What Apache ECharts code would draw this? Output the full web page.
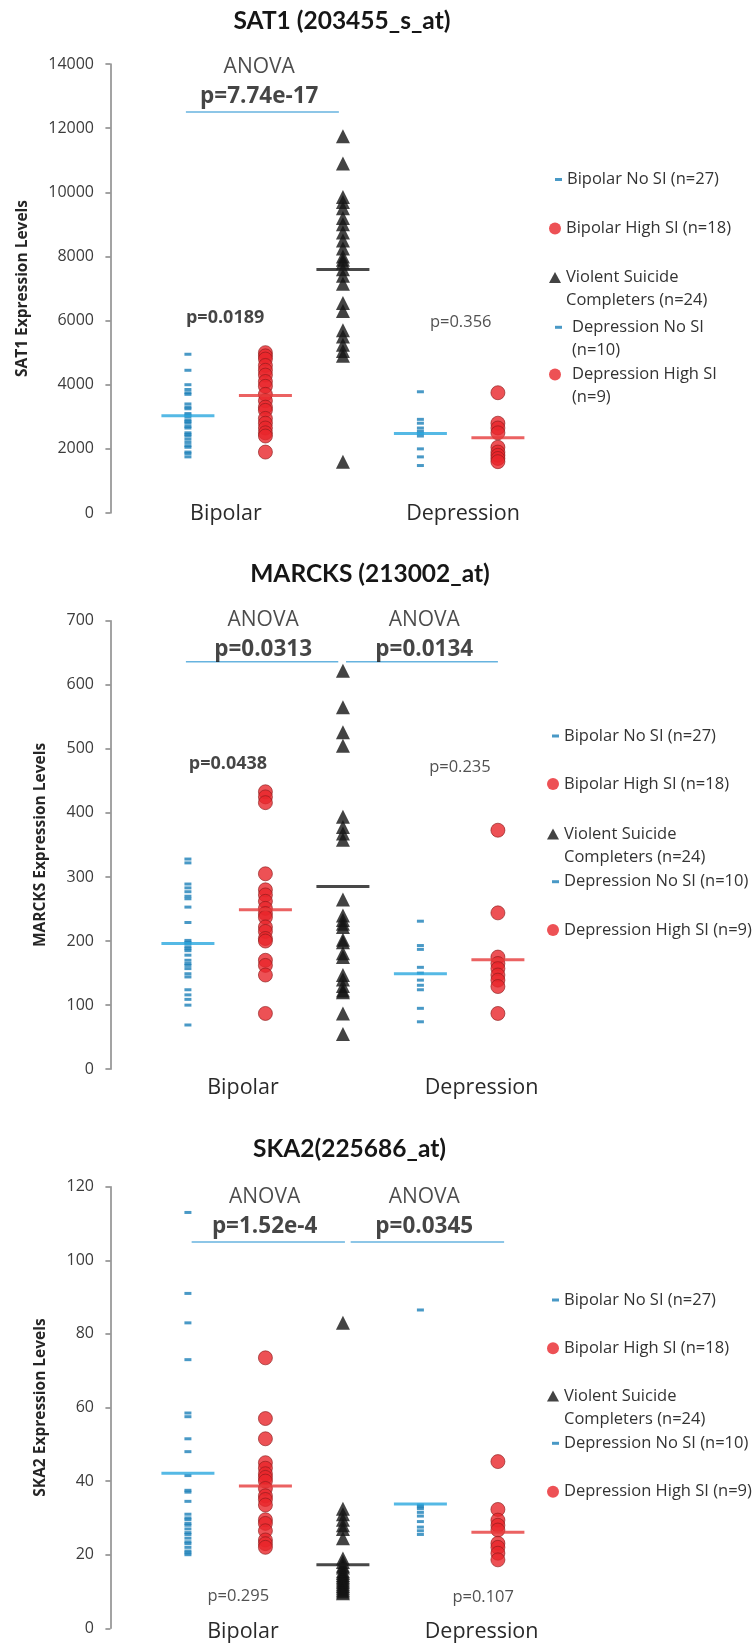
<!DOCTYPE html>
<html><head><meta charset="utf-8">
<script src="https://cdn.jsdelivr.net/npm/echarts@6/dist/echarts.min.js"></script>
<style>html,body{margin:0;padding:0;background:#fff}#c{width:754px;height:1651px}</style>
</head><body><div id="c"></div>
<script>
// ---------------- DATA ----------------
const groupNames = ['Bipolar No SI (n=27)', 'Bipolar High SI (n=18)', 'Violent Suicide Completers (n=24)', 'Depression No SI (n=10)', 'Depression High SI (n=9)'];
const categories = ['Bipolar', 'Depression'];
const chartTitles = ['SAT1 (203455_s_at)', 'MARCKS (213002_at)', 'SKA2(225686_at)'];
const yAxisNames = ['SAT1 Expression Levels', 'MARCKS Expression Levels', 'SKA2 Expression Levels'];

// SAT1
const sat1Ticks = [0, 2000, 4000, 6000, 8000, 10000, 12000, 14000];
const sat1BipolarNoSI = [4950, 4450, 4000, 3850, 3750, 3700, 3400, 3300, 3250, 3100, 3050, 3000, 2900, 2850, 2800, 2700, 2650, 2500, 2450, 2400, 2300, 2200, 2100, 2050, 1900, 1850, 1750];
const sat1BipolarHighSI = [5000, 4900, 4800, 4600, 4450, 4300, 4100, 3950, 3700, 3500, 3300, 3200, 2950, 2800, 2650, 2500, 2400, 1900];
const sat1Violent = [11750, 10900, 9850, 9700, 9500, 9200, 9000, 8750, 8500, 8250, 8000, 7900, 7800, 7600, 7400, 7150, 6550, 6300, 5700, 5500, 5250, 5050, 4900, 1600];
const sat1DepressionNoSI = [3780, 2920, 2800, 2650, 2550, 2480, 2400, 2000, 1750, 1480];
const sat1DepressionHighSI = [3750, 2800, 2650, 2500, 2050, 1900, 1800, 1700, 1600];
const sat1Means = [3030, 3660, 7590, 2480, 2350];
const sat1AnovaLevels = [12500];
const sat1AnovaP = ['p=7.74e-17'];
const sat1PairP = ['p=0.0189', 'p=0.356'];

// MARCKS
const marcksTicks = [0, 100, 200, 300, 400, 500, 600, 700];
const marcksBipolarNoSI = [328, 322, 289, 283, 277, 270, 266, 253, 229, 201, 198, 196, 191, 188, 185, 178, 170, 165, 162, 157, 149, 144, 124, 116, 109, 100, 69];
const marcksBipolarHighSI = [433, 425, 416, 305, 280, 272, 262, 251, 243, 237, 222, 215, 204, 200, 170, 162, 147, 87];
const marcksViolent = [622, 565, 526, 505, 394, 378, 368, 358, 265, 240, 233, 227, 222, 202, 198, 181, 175, 147, 140, 130, 123, 120, 87, 55];
const marcksDepressionNoSI = [231, 193, 187, 159, 150, 139, 131, 124, 95, 74];
const marcksDepressionHighSI = [373, 244, 175, 165, 157, 147, 139, 129, 87];
const marcksMeans = [196, 249, 285, 149, 171];
const marcksAnovaLevels = [636, 636];
const marcksAnovaP = ['p=0.0313', 'p=0.0134'];
const marcksPairP = ['p=0.0438', 'p=0.235'];

// SKA2
const ska2Ticks = [0, 20, 40, 60, 80, 100, 120];
const ska2BipolarNoSI = [113, 91, 83, 73, 58.5, 57.5, 51.5, 48, 41.5, 37.5, 37, 34.5, 31, 30, 29.5, 28.5, 28, 27, 26, 25.5, 24.5, 23.5, 23, 22, 21, 20.5, 20];
const ska2BipolarHighSI = [73.5, 57, 51.5, 45, 43.5, 42, 41, 40, 38, 36, 35, 33.5, 29.5, 28.5, 26.5, 24, 23, 22];
const ska2Violent = [83, 32.5, 31, 29.5, 28, 27, 24.5, 19, 18, 17, 16.5, 15.5, 15, 14.5, 14, 13.5, 13, 12.5, 12, 11.5, 11, 10.5, 10, 9.5];
const ska2DepressionNoSI = [86.5, 33.5, 33, 32.5, 31.5, 30.5, 29, 27.5, 26.5, 25.5];
const ska2DepressionHighSI = [45.3, 32.3, 29.4, 28, 26.7, 23.1, 22, 20.4, 18.6];
const ska2Means = [42.1, 38.7, 17.3, 33.8, 26.1];
const ska2AnovaLevels = [105, 105];
const ska2AnovaP = ['p=1.52e-4', 'p=0.0345'];
const ska2PairP = ['p=0.295', 'p=0.107'];

// ---------------- ASSEMBLY ----------------
const charts = [
  { ticks: sat1Ticks, values: [sat1BipolarNoSI, sat1BipolarHighSI, sat1Violent, sat1DepressionNoSI, sat1DepressionHighSI], means: sat1Means, anovaLevels: sat1AnovaLevels, anovaP: sat1AnovaP, pairP: sat1PairP },
  { ticks: marcksTicks, values: [marcksBipolarNoSI, marcksBipolarHighSI, marcksViolent, marcksDepressionNoSI, marcksDepressionHighSI], means: marcksMeans, anovaLevels: marcksAnovaLevels, anovaP: marcksAnovaP, pairP: marcksPairP },
  { ticks: ska2Ticks, values: [ska2BipolarNoSI, ska2BipolarHighSI, ska2Violent, ska2DepressionNoSI, ska2DepressionHighSI], means: ska2Means, anovaLevels: ska2AnovaLevels, anovaP: ska2AnovaP, pairP: ska2PairP }
];

// layout (pixels / axis-coordinates of annotations)
const layout = [
  { top: 64, height: 449, title: [342, 21], nameGap: 74, catPos: [1.49, 4.55], catMargin: 1,
    spans: [[0.974, 2.948]], anovaX: [1.92], wordY: 13920, pY: 12970,
    pairPos: [[1.48, 6080], [4.52, 5956]], pairBold: [true, false],
    legend: [{ g: 0, cy: 179.5, left: 555 }, { g: 1, cy: 228.5, left: 549 }, { g: 2, cy: 277.5, left: 549, wrap: true }, { g: 3, cy: 327.3, left: 555, wrap: true, pad: 5 }, { g: 4, cy: 374.5, left: 549, wrap: true, pad: 6 }] },
  { top: 620.7, height: 448.5, title: [370, 574], nameGap: 56, catPos: [1.71, 4.79], catMargin: 19,
    spans: [[0.974, 2.94], [3.04, 5.0]], anovaX: [1.97, 4.05], wordY: 701, pY: 655,
    pairPos: [[1.516, 476.5], [4.51, 470.7]], pairBold: [true, false],
    legend: [{ g: 0, cy: 736, left: 552 }, { g: 1, cy: 784, left: 547 }, { g: 2, cy: 834, left: 547, wrap: true }, { g: 3, cy: 881.7, left: 552 }, { g: 4, cy: 930, left: 547 }] },
  { top: 1186.7, height: 441.6, title: [349.5, 1149], nameGap: 56, catPos: [1.71, 4.79], catMargin: 4,
    spans: [[1.048, 3.026], [3.1, 5.08]], anovaX: [1.99, 4.05], wordY: 117.3, pY: 109.2,
    pairPos: [[1.65, 8.6], [4.81, 8.4]], pairBold: [false, false],
    legend: [{ g: 0, cy: 1300, left: 552 }, { g: 1, cy: 1348.3, left: 547 }, { g: 2, cy: 1396, left: 547, wrap: true }, { g: 3, cy: 1443.3, left: 552 }, { g: 4, cy: 1491.7, left: 547 }] }
];

const FONT = 'Open Sans';
const TITLE_FONT = 'Lato';
const symbolOf = ['rect', 'circle', 'triangle', 'rect', 'circle'];
const sizeOf = [[7, 3], 14, 14, [7, 3], 14];
const colorOf = ['#1c80b8', '#e8262b', '#141414', '#1c80b8', '#e8262b'];
const meanColorOf = ['#2aa8df', '#e63b3b', '#1a1a1a', '#2aa8df', '#e63b3b'];
const AX = '#858585';
const LH = 23;

function wrapName(g, name) {
  return g === 2 ? name.replace(' Completers', '\nCompleters') : name.replace(' (', '\n(');
}

const option = {
  animation: false,
  backgroundColor: '#fff',
  textStyle: { fontFamily: FONT },
  title: [], grid: [], xAxis: [], yAxis: [], legend: [], series: []
};

charts.forEach((c, ci) => {
  const lay = layout[ci];
  option.title.push({
    text: chartTitles[ci], left: lay.title[0], top: lay.title[1], padding: 0,
    textAlign: 'center', textVerticalAlign: 'middle',
    textStyle: { fontFamily: TITLE_FONT, fontSize: 24.5, fontWeight: 'bold', color: '#161616' }
  });
  option.grid.push({ left: 105, top: lay.top, width: 439.4, height: lay.height });
  option.xAxis.push({
    type: 'value', gridIndex: ci, min: -0.07, max: 5.6,
    axisLine: { show: false }, axisTick: { show: false }, splitLine: { show: false },
    axisLabel: {
      customValues: lay.catPos, margin: lay.catMargin, verticalAlign: 'middle',
      fontFamily: FONT, fontSize: 21.5, color: '#2a2a2a',
      formatter: (v) => (v < 3 ? categories[0] : categories[1])
    }
  });
  const t = c.ticks;
  option.yAxis.push({
    type: 'value', gridIndex: ci, min: t[0], max: t[t.length - 1], interval: t[1] - t[0],
    name: yAxisNames[ci], nameLocation: 'middle', nameGap: lay.nameGap,
    nameTextStyle: { fontFamily: FONT, fontWeight: 'bold', fontSize: 15.5, color: '#262626' },
    axisLine: { show: true, lineStyle: { color: AX, width: 1.5 } },
    axisTick: { show: true, length: 5, lineStyle: { color: AX, width: 1.5 } },
    splitLine: { show: false },
    axisLabel: { fontFamily: FONT, fontSize: 16, color: '#3c3c3c', margin: 11, formatter: (v) => String(v) }
  });
  // groups
  c.values.forEach((vals, g) => {
    option.series.push({
      type: 'scatter', name: groupNames[g], xAxisIndex: ci, yAxisIndex: ci,
      symbol: symbolOf[g], symbolSize: sizeOf[g],
      itemStyle: (g === 1 || g === 4) ? { color: colorOf[g], borderColor: '#8a1a1a', borderWidth: 0.8 } : { color: colorOf[g] },
      data: vals.map(v => [g + 1, v]), z: 2, silent: true
    });
  });
  // mean lines
  option.series.push({
    type: 'scatter', name: 'mean', xAxisIndex: ci, yAxisIndex: ci,
    symbol: 'rect', symbolSize: [53, 3], z: 5, silent: true,
    data: c.means.map((m, g) => ({ value: [g + 1, m], itemStyle: { color: meanColorOf[g] } }))
  });
  // ANOVA lines
  lay.spans.forEach((sp, k) => {
    option.series.push({
      type: 'line', name: 'anova', xAxisIndex: ci, yAxisIndex: ci, symbol: 'none', silent: true,
      lineStyle: { color: '#67b3df', width: 1.5 },
      data: [[sp[0], c.anovaLevels[k]], [sp[1], c.anovaLevels[k]]]
    });
  });
  // text annotations
  const ann = [];
  lay.anovaX.forEach((x, k) => {
    ann.push({ value: [x, lay.wordY], name: 'ANOVA', label: { fontSize: 21, fontWeight: 'normal', color: '#1e1e1e' } });
    ann.push({ value: [x, lay.pY], name: c.anovaP[k], label: { fontSize: 22.5, fontWeight: 'bold', color: '#161616' } });
  });
  lay.pairPos.forEach((p, k) => {
    ann.push({ value: p, name: c.pairP[k], label: lay.pairBold[k] ? { fontSize: 18, fontWeight: 'bold', color: '#161616' } : { fontSize: 16.5, fontWeight: 'normal', color: '#262626' } });
  });
  option.series.push({
    type: 'scatter', name: 'notes', xAxisIndex: ci, yAxisIndex: ci, symbolSize: 1, clip: false, silent: true,
    itemStyle: { color: 'rgba(0,0,0,0)' }, z: 6,
    label: { show: true, position: 'inside', formatter: '{b}', fontFamily: FONT },
    data: ann
  });
  // legends (one component per entry so each can sit where the reference has it)
  lay.legend.forEach(s => {
    const name = groupNames[s.g];
    const text = s.wrap ? wrapName(s.g, name) : name;
    const two = text.indexOf('\n') >= 0;
    const shown = two ? '\n' + text : text; // leading empty line keeps the icon on the first text line
    const dash = (s.g === 0 || s.g === 3);
    option.legend.push({
      left: s.left, top: two ? s.cy - 1.5 * LH : s.cy - LH / 2, padding: 0, selectedMode: false,
      orient: 'vertical', itemGap: 0,
      itemWidth: dash ? 7 : 12, itemHeight: dash ? 3 : (s.g === 2 ? 11 : 12),
      itemStyle: { borderWidth: 0 },
      data: [{ name: name, icon: symbolOf[s.g] }],
      formatter: () => shown,
      textStyle: { fontFamily: FONT, fontSize: 16.5, color: '#333333', lineHeight: LH, padding: [0, 0, 0, s.pad || 0] }
    });
  });
});

const chart = echarts.init(document.getElementById('c'), null, { renderer: 'canvas' });
chart.setOption(option);
</script>
</body></html>
